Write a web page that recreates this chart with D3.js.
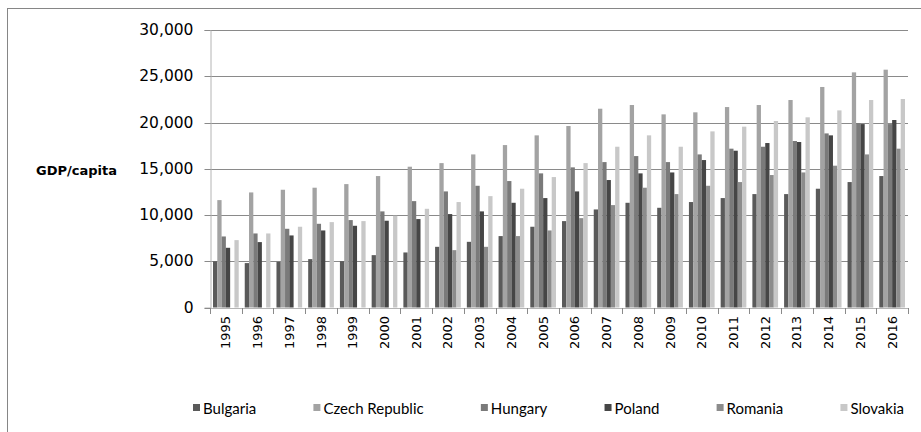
<!DOCTYPE html>
<html lang="en">
<head>
  <meta charset="UTF-8">
  <title>GDP per capita, 1995-2016</title>
  <script src="https://d3js.org/d3.v7.min.js"></script>
  <style>
    body { margin: 0; background: #fff; }
    svg { display: block; }
    .ytick text { font-family: "DejaVu Sans", sans-serif; font-size: 15.5px; fill: #000; }
    .xtick text { font-family: "DejaVu Sans", sans-serif; font-size: 13px; fill: #000; }
    .ylab { font-family: "DejaVu Sans", sans-serif; font-size: 13px; font-weight: bold; }
    .legend text { font-family: Lato, sans-serif; font-size: 15px; fill: #000; }
  </style>
</head>
<body>
<svg id="chart"></svg>
<script>
const years = ["1995","1996","1997","1998","1999","2000","2001","2002","2003","2004","2005",
               "2006","2007","2008","2009","2010","2011","2012","2013","2014","2015","2016"];
const countries = ["Bulgaria", "Czech Republic", "Hungary", "Poland", "Romania", "Slovakia"];
const colors = ["#5a5a5a", "#a3a3a3", "#7a7a7a", "#464646", "#8c8c8c", "#c8c8c8"];

const bulgaria = [5000,4800,4940,5230,5010,5660,5950,6560,7100,7720,8730,
                  9340,10600,11320,10780,11400,11830,12260,12260,12840,13560,14210];
const czech    = [11610,12440,12730,12950,13340,14210,15220,15610,16550,17560,18610,
                  19620,21490,21890,20880,21100,21670,21890,22430,23840,25420,25710];
const hungary  = [7680,8005,8510,9050,9450,10390,11500,12550,13160,13670,14500,
                  15150,15720,16370,15720,16550,17170,17380,18000,18820,19940,19830];
const poland   = [6455,7070,7790,8330,8835,9380,9560,10100,10390,11320,11830,
                  12550,13780,14500,14600,15940,16950,17780,17890,18610,19830,20270];
const romania  = [null,null,null,null,null,null,null,6200,6560,7720,8330,
                  9660,11070,12950,12260,13160,13560,14320,14600,15330,16550,17170];
const slovakia = [7285,8005,8730,9230,9340,9920,10670,11400,12040,12840,14100,
                  15610,17380,18610,17380,19040,19550,20160,20560,21310,22430,22540];
const series = [bulgaria, czech, hungary, poland, romania, slovakia];
const yTicks = [0, 5000, 10000, 15000, 20000, 25000, 30000];

const W = 921, H = 432;
const plot = { left: 210, right: 908, top: 30, bottom: 307.5 };

const svg = d3.select("#chart").attr("width", W).attr("height", H);

// outer frame (right/bottom edges fall outside the picture)
svg.append("rect")
  .attr("x", 7.5).attr("y", 8.5)
  .attr("width", 940).attr("height", 440)
  .attr("fill", "none").attr("stroke", "#868686");

const y = d3.scaleLinear().domain([0, 30000]).range([plot.bottom, plot.top]);
const x0 = d3.scaleBand().domain(years).range([plot.left, plot.right])
  .paddingInner(0.19).paddingOuter(0.095);
const x1 = d3.scaleBand().domain(d3.range(countries.length)).range([0, x0.bandwidth()]);

// gridlines
svg.append("g").selectAll("line")
  .data(yTicks.slice(1))
  .join("line")
  .attr("x1", plot.left).attr("x2", plot.right)
  .attr("y1", d => Math.round(y(d)) + 0.5).attr("y2", d => Math.round(y(d)) + 0.5)
  .attr("stroke", "#8a8a8a");

// y axis
const yAxis = svg.append("g")
  .attr("class", "ytick")
  .attr("transform", `translate(${plot.left + 0.5},0)`)
  .call(d3.axisLeft(y).tickValues(yTicks).tickFormat(d3.format(",")).tickSize(6).tickPadding(11));
yAxis.select(".domain").attr("stroke", "#b4b4b4");
yAxis.selectAll(".tick line").attr("stroke", "#8a8a8a");
yAxis.selectAll(".tick").attr("transform", d => `translate(0,${Math.round(y(d)) + 0.5})`);

// bars
const groups = svg.append("g").selectAll("g")
  .data(years)
  .join("g")
  .attr("transform", d => `translate(${x0(d)},0)`);

groups.selectAll("rect")
  .data((yr, i) => series.map((s, k) => ({ k, v: s[i] })).filter(d => d.v != null))
  .join("rect")
  .attr("x", d => x1(d.k))
  .attr("width", x1.bandwidth())
  .attr("y", d => y(d.v))
  .attr("height", d => y(0) - y(d.v))
  .attr("fill", d => colors[d.k]);

// x axis: baseline, category-boundary ticks, rotated labels
const xg = svg.append("g").attr("class", "xtick");
xg.append("line")
  .attr("x1", plot.left).attr("x2", plot.right)
  .attr("y1", Math.round(plot.bottom) + 0.5).attr("y2", Math.round(plot.bottom) + 0.5)
  .attr("stroke", "#b4b4b4");
const step = x0.step();
xg.selectAll("line.tk")
  .data(d3.range(years.length + 1))
  .join("line")
  .attr("class", "tk")
  .attr("x1", i => Math.round(plot.left + i * step) + 0.5)
  .attr("x2", i => Math.round(plot.left + i * step) + 0.5)
  .attr("y1", Math.round(plot.bottom)).attr("y2", Math.round(plot.bottom) + 6)
  .attr("stroke", "#8a8a8a");
xg.selectAll("text")
  .data(years)
  .join("text")
  .attr("transform", d => `translate(${x0(d) + x0.bandwidth() / 2},316) rotate(-90)`)
  .attr("text-anchor", "end")
  .attr("dominant-baseline", "central")
  .text(d => d);

// axis title
svg.append("text")
  .attr("class", "ylab")
  .attr("x", 36).attr("y", 170)
  .attr("dominant-baseline", "central")
  .text("GDP/capita");

// legend
const legend = svg.append("g").attr("class", "legend");
const items = legend.selectAll("g")
  .data(countries)
  .join("g");
items.append("rect")
  .attr("width", 7).attr("height", 7)
  .attr("y", 404)
  .attr("fill", (d, i) => colors[i]);
items.append("text")
  .attr("x", 10).attr("y", 408)
  .attr("dominant-baseline", "central")
  .text(d => d);

const widths = items.nodes().map(n => 10 + n.querySelector("text").getComputedTextLength());
const legStart = 193, legEnd = 904;
const gap = (legEnd - legStart - d3.sum(widths)) / (countries.length - 1);
let cx = legStart;
items.each(function (d, i) {
  d3.select(this).attr("transform", `translate(${cx},0)`);
  cx += widths[i] + gap;
});
</script>
</body>
</html>
